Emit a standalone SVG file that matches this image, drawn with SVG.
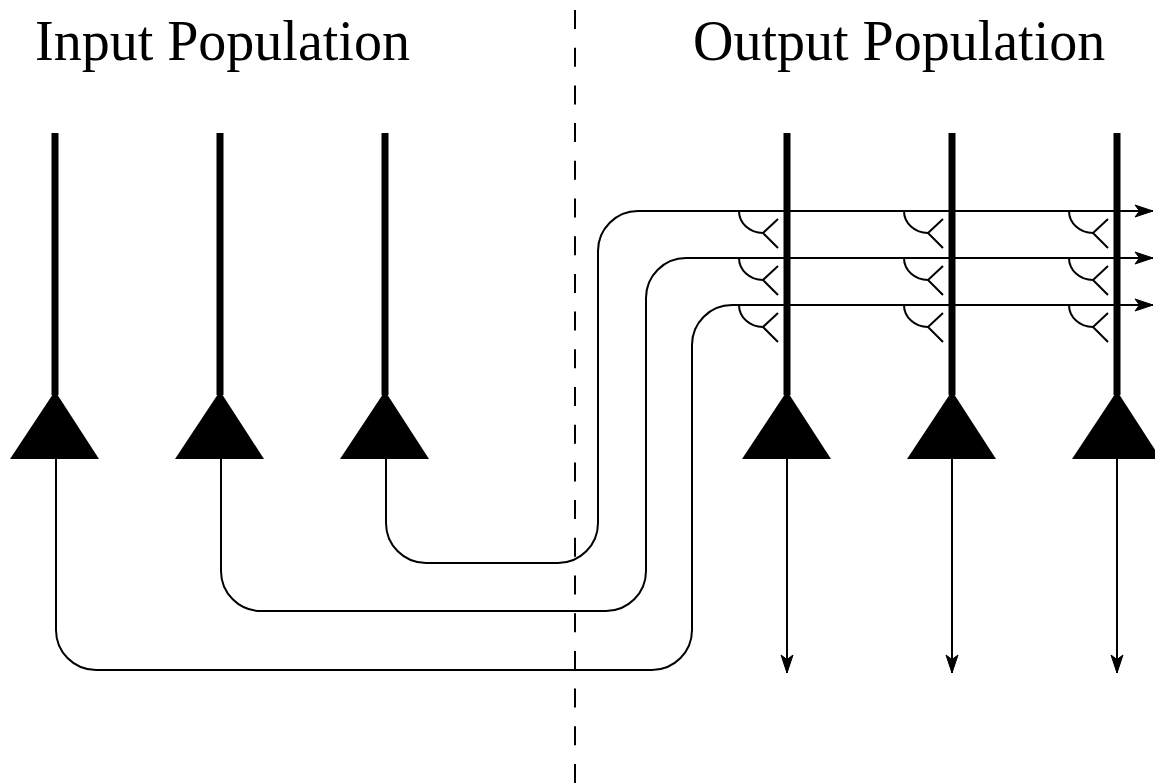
<svg xmlns="http://www.w3.org/2000/svg" width="1155" height="783" viewBox="0 0 1155 783">
<style>
.t{font-family:"Liberation Serif","Times New Roman",serif;font-size:56px;fill:#000}
.thin{fill:none;stroke:#000;stroke-width:2}
.thick{stroke:#000;stroke-width:7}
.soma{fill:#000}
.syn{fill:none;stroke:#000;stroke-width:2}
.dash{stroke:#000;stroke-width:2;stroke-dasharray:19 18.7}
</style>
<defs>
<marker id="ah" markerUnits="userSpaceOnUse" markerWidth="22" markerHeight="16" refX="20" refY="8" orient="auto" overflow="visible">
<path d="M20,8 L2,2 L6.5,8 L2,14 Z" fill="#000" stroke="#000" stroke-width="1" stroke-linejoin="miter"/>
</marker>
</defs>
<rect width="1155" height="783" fill="#fff"/>
<text class="t" x="35" y="60">Input Population</text>
<text class="t" x="693" y="60">Output Population</text>
<line class="dash" x1="575" y1="10" x2="575" y2="783"/>
<g id="connectors">
<path class="thin" d="M386,459 V523 A40,40 0 0 0 426,563 H558 A40,40 0 0 0 598,523 V251 A40,40 0 0 1 638,211 H1153" marker-end="url(#ah)"/>
<path class="thin" d="M221,459 V571 A40,40 0 0 0 261,611 H606 A40,40 0 0 0 646,571 V298 A40,40 0 0 1 686,258 H1153" marker-end="url(#ah)"/>
<path class="thin" d="M56,459 V630 A40,40 0 0 0 96,670 H652 A40,40 0 0 0 692,630 V345 A40,40 0 0 1 732,305 H1153" marker-end="url(#ah)"/>
<path class="thin" d="M787,459 V673" marker-end="url(#ah)"/>
<path class="thin" d="M952,459 V673" marker-end="url(#ah)"/>
<path class="thin" d="M1117,459 V673" marker-end="url(#ah)"/>
</g>
<g id="input1">
<line class="thick" x1="55" y1="133" x2="55" y2="395"/>
<polygon class="soma" points="55,391 99,459 10,459"/>
</g>
<g id="input2">
<line class="thick" x1="220" y1="133" x2="220" y2="395"/>
<polygon class="soma" points="220,391 264,459 175,459"/>
</g>
<g id="input3">
<line class="thick" x1="385" y1="133" x2="385" y2="395"/>
<polygon class="soma" points="385,391 429,459 340,459"/>
</g>
<g id="output1">
<path class="syn" d="M739,211 A24,22 0 0 0 763,233 M778,219 L763,233 L778,248 M739,258 A24,22 0 0 0 763,280 M778,266 L763,280 L778,295 M739,305 A24,22 0 0 0 763,327 M778,313 L763,327 L778,342"/>
<line class="thick" x1="787" y1="133" x2="787" y2="395"/>
<polygon class="soma" points="787,391 831,459 742,459"/>
</g>
<g id="output2">
<path class="syn" d="M904,211 A24,22 0 0 0 928,233 M943,219 L928,233 L943,248 M904,258 A24,22 0 0 0 928,280 M943,266 L928,280 L943,295 M904,305 A24,22 0 0 0 928,327 M943,313 L928,327 L943,342"/>
<line class="thick" x1="952" y1="133" x2="952" y2="395"/>
<polygon class="soma" points="952,391 996,459 907,459"/>
</g>
<g id="output3">
<path class="syn" d="M1069,211 A24,22 0 0 0 1093,233 M1108,219 L1093,233 L1108,248 M1069,258 A24,22 0 0 0 1093,280 M1108,266 L1093,280 L1108,295 M1069,305 A24,22 0 0 0 1093,327 M1108,313 L1093,327 L1108,342"/>
<line class="thick" x1="1117" y1="133" x2="1117" y2="395"/>
<polygon class="soma" points="1117,391 1161,459 1072,459"/>
</g>
</svg>
